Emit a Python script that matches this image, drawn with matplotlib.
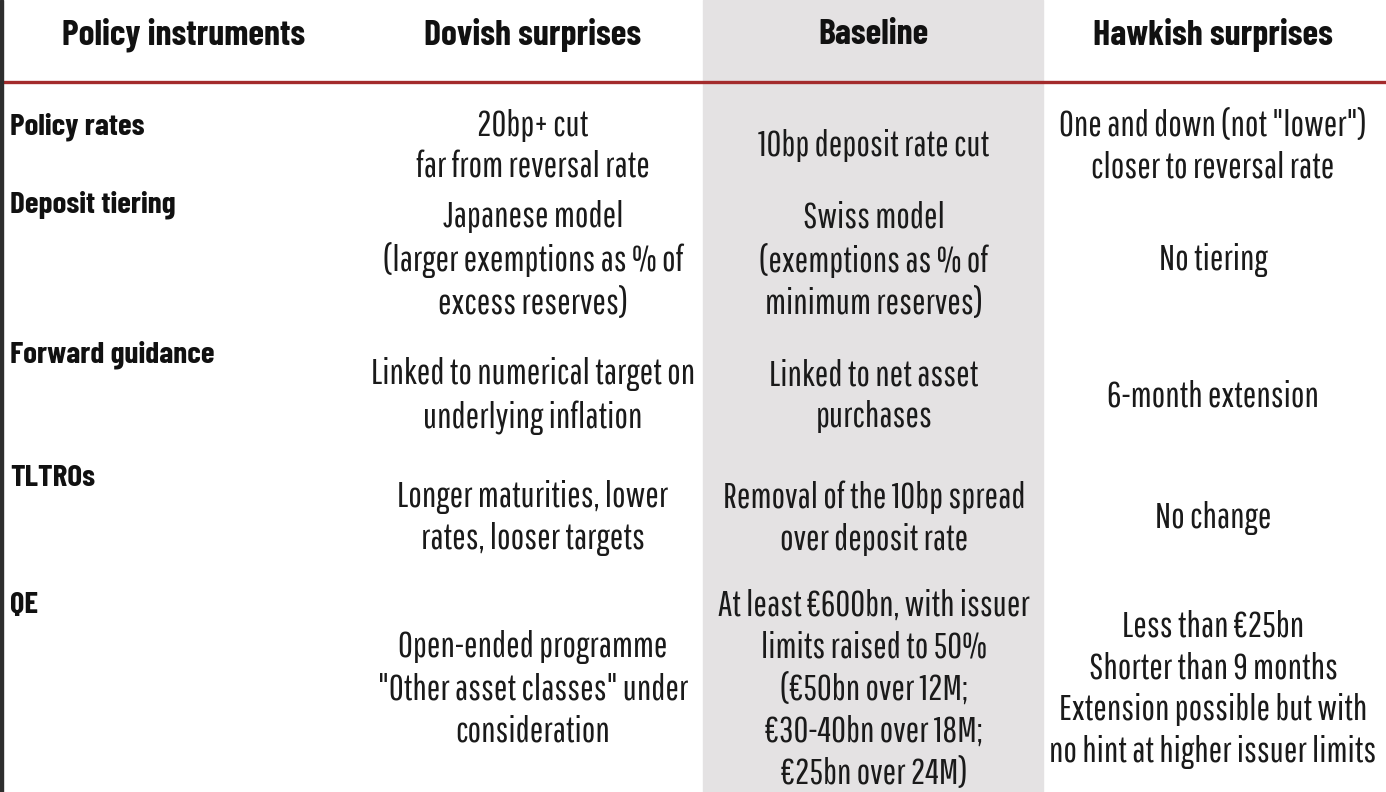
import matplotlib.pyplot as plt

BODY_FONT = ['Pathway Gothic One', 'Roboto Condensed', 'DejaVu Sans']
BOLD_FONT = ['Barlow Condensed', 'Roboto Condensed', 'DejaVu Sans']

headers = ["Policy instruments", "Dovish surprises", "Baseline", "Hawkish surprises"]
instruments = ["Policy rates", "Deposit tiering", "Forward guidance", "TLTROs", "QE"]

dovish = [
    "20bp+ cut\nfar from reversal rate",
    "Japanese model\n(larger exemptions as % of\nexcess reserves)",
    "Linked to numerical target on\nunderlying inflation",
    "Longer maturities, lower\nrates, looser targets",
    "Open-ended programme\n\"Other asset classes\" under\nconsideration",
]
baseline = [
    "10bp deposit rate cut",
    "Swiss model\n(exemptions as % of\nminimum reserves)",
    "Linked to net asset\npurchases",
    "Removal of the 10bp spread\nover deposit rate",
    "At least €600bn, with issuer\nlimits raised to 50%\n(€50bn over 12M;\n€30-40bn over 18M;\n€25bn over 24M)",
]
hawkish = [
    "One and down (not \"lower\")\ncloser to reversal rate",
    "No tiering",
    "6-month extension",
    "No change",
    "Less than €25bn\nShorter than 9 months\nExtension possible but with\nno hint at higher issuer limits",
]

# layout (pixel coordinates)
W, H = 1386, 792
col_x = [184, 533, 874, 1213]
row_y = [146, 260, 396, 518, 689]
label_y = [127, 205, 355, 478, 605]

fig = plt.figure(figsize=(W / 100, H / 100), dpi=100)
ax = fig.add_axes([0, 0, 1, 1])
ax.set_xlim(0, W)
ax.set_ylim(H, 0)
ax.axis('off')

# shaded baseline column
ax.axvspan(703, 1043, color='#e4e2e3', zorder=0)
# dark left edge
ax.axvspan(0, 3, color='#2e2e2e', zorder=3)
# red rule under header
ax.plot([3, W], [82, 82], color='#a32b2c', lw=2.4, solid_capstyle='butt')

for x, h in zip(col_x, headers):
    ax.text(x, 35, h, ha='center', va='center', fontsize=25.7, fontweight='bold',
            family=BOLD_FONT, color='#111111')

for y, lab in zip(label_y, instruments):
    ax.text(10, y, lab, ha='left', va='center', fontsize=22.5, fontweight='bold',
            family=BOLD_FONT, color='#111111')

for col, x in zip([dovish, baseline, hawkish], col_x[1:]):
    for y, txt in zip(row_y, col):
        ax.text(x, y, txt, ha='center', va='center', fontsize=26, color='#1a1a1a',
                family=BODY_FONT, linespacing=1.33)

fig.savefig('out.png', dpi=100)
